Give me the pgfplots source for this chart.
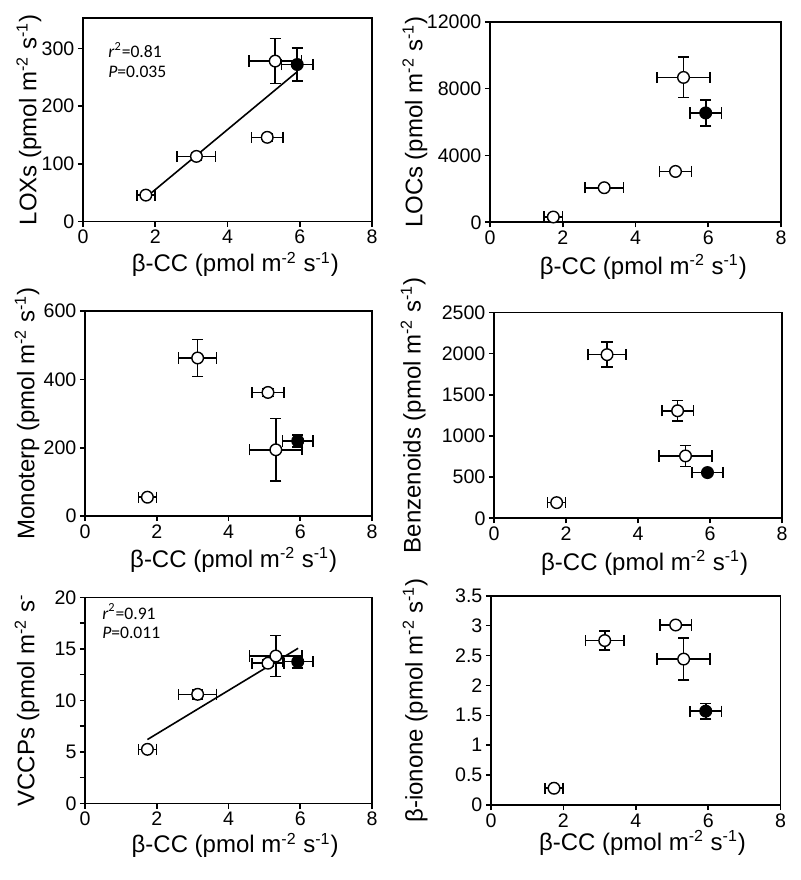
\documentclass[border=0pt]{standalone}
\usepackage{fontspec}
\setmainfont{Liberation Sans}
\newfontfamily\calib{Carlito}
\usepackage{pgfplots}
\pgfplotsset{compat=1.18}
\usepackage{pgfplotstable}

\pgfplotstableread{
x y ex ey
1.74 46 0.25 3
3.14 113 0.53 6
5.10 146 0.44 6
5.32 278 0.73 39
}\loxo
\pgfplotstableread{
x y ex ey
5.93 272 0.43 29
}\loxf
\pgfplotstableread{
x y ex ey
1.74 316 0.25 120
3.14 2071 0.53 150
5.10 3045 0.44 150
5.32 8675 0.73 1206
}\loco
\pgfplotstableread{
x y ex ey
5.93 6549 0.43 767
}\locf
\pgfplotstableread{
x y ex ey
1.74 55 0.25 8
3.14 463 0.53 54
5.10 362 0.44 12
5.32 194 0.73 92
}\monoo
\pgfplotstableread{
x y ex ey
5.93 220 0.43 17
}\monof
\pgfplotstableread{
x y ex ey
1.74 190 0.25 20
3.14 1986 0.53 152
5.10 1305 0.44 126
5.32 757 0.73 126
}\benzo
\pgfplotstableread{
x y ex ey
5.93 555 0.43 20
}\benzf
\pgfplotstableread{
x y ex ey
1.74 5.24 0.25 0.2
3.14 10.58 0.53 0.44
5.10 13.6 0.44 0.3
5.32 14.3 0.73 2.0
}\vccpo
\pgfplotstableread{
x y ex ey
5.93 13.75 0.43 0.6
}\vccpf
\pgfplotstableread{
x y ex ey
1.74 0.28 0.25 0.03
3.14 2.75 0.53 0.16
5.10 3.01 0.44 0.04
5.32 2.44 0.73 0.35
}\iono
\pgfplotstableread{
x y ex ey
5.93 1.57 0.43 0.13
}\ionf

\pgfplotsset{
 panel/.style={
  scale only axis, anchor=south west,
  xmin=0, xmax=8, xtick={0,2,4,6,8},
  axis line style={line width=0.8pt},
  tick style={line width=0.8pt, black},
  major tick length=2.6pt,
  tick align=outside,
  tick pos=left,
  scaled ticks=false,
  tick label style={font=\fontsize{9.8}{11}\selectfont, inner sep=1.5pt},
  label style={font=\fontsize{12}{14}\selectfont},
  /pgf/number format/assume math mode=true,
  /pgf/number format/1000 sep={},
  xlabel={β-CC (pmol m\textsuperscript{-2} s\textsuperscript{-1})},
  clip=false,
 },
 ebars/.style={error bars/.cd, x dir=both, x explicit, y dir=both, y explicit,
  error bar style={line width=0.8pt, black},
  error mark=-,
  error mark options={rotate=90, mark size=2.8pt, line width=0.8pt, black}},
 openpts/.style={only marks, mark=*, mark size=2.9pt, black,
  mark options={fill=white, line width=0.7pt, solid}, ebars},
 fillpts/.style={only marks, mark=*, mark size=2.9pt, black,
  mark options={fill=black, line width=0.7pt, solid}, ebars},
}

\begin{document}
\begin{tikzpicture}
\useasboundingbox (0,0) rectangle (400pt,440pt);

% Panel 1: LOXs
\begin{axis}[panel, at={(41.5pt,329.15pt)}, width=144.5pt, height=101.7pt,
  ymin=0, ymax=352, ytick={0,100,200,300},
  ylabel={LOXs (pmol m\textsuperscript{-2} s\textsuperscript{-1})},
  ylabel style={at={(axis description cs:-0.187,0.5)}, anchor=center},
  xlabel style={at={(axis description cs:0.527,-0.21)}, anchor=center}]
\addplot[black, line width=0.8pt] coordinates {(1.74,42) (5.9,258)};
\addplot[openpts] table[x=x, y=y, x error=ex, y error=ey] {\loxo};
\addplot[fillpts] table[x=x, y=y, x error=ex, y error=ey] {\loxf};
\node[anchor=west, inner sep=0pt, font=\calib\fontsize{8.8}{10}\selectfont] at (axis cs:0.69,297) {\textit{r}\textsuperscript{2}=0.81};
\node[anchor=west, inner sep=0pt, font=\calib\fontsize{8.8}{10}\selectfont] at (axis cs:0.69,259) {\textit{P}=0.035};
\end{axis}

% Panel 2: LOCs
\begin{axis}[panel, at={(245pt,328.85pt)}, width=145.5pt, height=100.2pt,
  ymin=0, ymax=12000, ytick={0,4000,8000,12000},
  ylabel={LOCs (pmol m\textsuperscript{-2} s\textsuperscript{-1})},
  ylabel style={at={(axis description cs:-0.258,0.5)}, anchor=center},
  xlabel style={at={(axis description cs:0.527,-0.224)}, anchor=center}]
\addplot[openpts] table[x=x, y=y, x error=ex, y error=ey] {\loco};
\addplot[fillpts] table[x=x, y=y, x error=ex, y error=ey] {\locf};
\end{axis}

% Panel 3: Monoterp
\begin{axis}[panel, at={(42.5pt,182pt)}, width=143.5pt, height=102.4pt,
  ymin=0, ymax=600, ytick={0,200,400,600},
  ylabel={Monoterp (pmol m\textsuperscript{-2} s\textsuperscript{-1})},
  ylabel style={at={(axis description cs:-0.202,0.5)}, anchor=center},
  xlabel style={at={(axis description cs:0.518,-0.216)}, anchor=center}]
\addplot[openpts] table[x=x, y=y, x error=ex, y error=ey] {\monoo};
\addplot[fillpts] table[x=x, y=y, x error=ex, y error=ey] {\monof};
\end{axis}

% Panel 4: Benzenoids
\begin{axis}[panel, at={(247pt,180.85pt)}, width=144pt, height=103pt,
  ymin=0, ymax=2500, ytick={0,500,1000,1500,2000,2500},
  ylabel={Benzenoids (pmol m\textsuperscript{-2} s\textsuperscript{-1})},
  ylabel style={at={(axis description cs:-0.281,0.5)}, anchor=center},
  xlabel style={at={(axis description cs:0.523,-0.215)}, anchor=center}]
\addplot[openpts] table[x=x, y=y, x error=ex, y error=ey] {\benzo};
\addplot[fillpts] table[x=x, y=y, x error=ex, y error=ey] {\benzf};
\end{axis}

% Panel 5: VCCPs
\begin{axis}[panel, at={(42.5pt,38.35pt)}, width=143.5pt, height=103pt,
  ymin=0, ymax=20, ytick={0,5,10,15,20}, minor y tick num=1,
  minor tick length=2.6pt,
  ylabel={VCCPs (pmol m\textsuperscript{-2} s\textsuperscript{-}},
  ylabel style={at={(axis description cs:-0.202,0.5)}, anchor=center},
  xlabel style={at={(axis description cs:0.523,-0.204)}, anchor=center}]
\addplot[black, line width=0.8pt] coordinates {(1.74,6.19) (5.94,15.05)};
\addplot[openpts] table[x=x, y=y, x error=ex, y error=ey] {\vccpo};
\addplot[fillpts] table[x=x, y=y, x error=ex, y error=ey] {\vccpf};
\node[anchor=west, inner sep=0pt, font=\calib\fontsize{8.8}{10}\selectfont] at (axis cs:0.47,18.6) {\textit{r}\textsuperscript{2}=0.91};
\node[anchor=west, inner sep=0pt, font=\calib\fontsize{8.8}{10}\selectfont] at (axis cs:0.47,16.5) {\textit{P}=0.011};
\end{axis}

% Panel 6: beta-ionone
\begin{axis}[panel, at={(245.5pt,37.5pt)}, width=144.85pt, height=104.65pt,
  ymin=0, ymax=3.5, ytick={0,0.5,1,1.5,2,2.5,3,3.5},
  ylabel={β-ionone (pmol m\textsuperscript{-2} s\textsuperscript{-1})},
  ylabel style={at={(axis description cs:-0.262,0.5)}, anchor=center},
  xlabel style={at={(axis description cs:0.523,-0.182)}, anchor=center}]
\addplot[openpts] table[x=x, y=y, x error=ex, y error=ey] {\iono};
\addplot[fillpts] table[x=x, y=y, x error=ex, y error=ey] {\ionf};
\end{axis}
\end{tikzpicture}
\end{document}
